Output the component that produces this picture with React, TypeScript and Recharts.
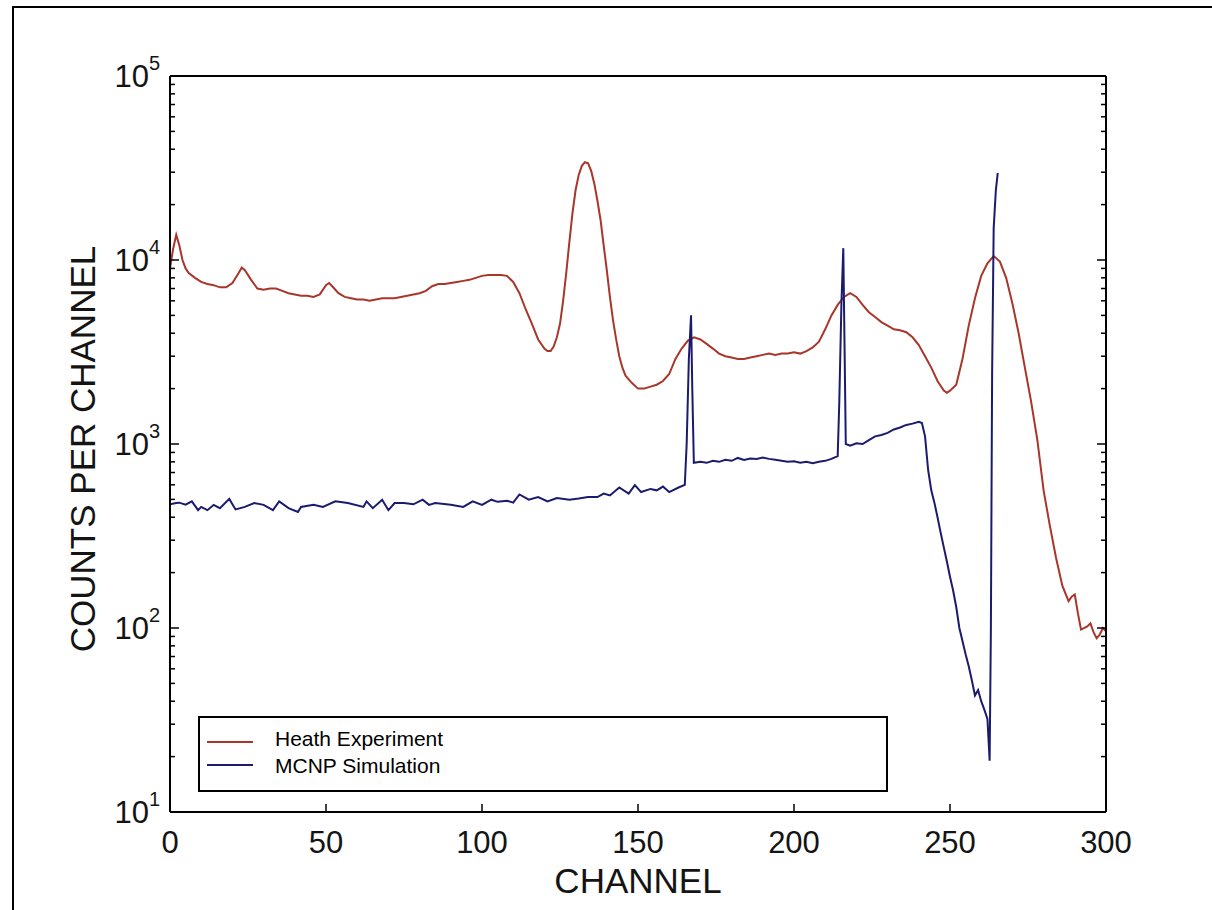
import React from 'react';
import { LineChart, Line, XAxis, YAxis, Legend, Label } from 'recharts';

const FONT = '"Liberation Sans", Arial, Helvetica, sans-serif';

// Heath Experiment (red)
const heathChannel = [
  0, 1, 2, 3, 4, 5, 6, 8, 10, 12, 14, 16, 18, 20, 22, 23, 24, 26, 28, 30,
  32, 34, 36, 38, 40, 42, 44, 46, 48, 50, 51, 52, 54, 56, 58, 60, 62, 64, 66, 68,
  70, 72, 74, 76, 78, 80, 82, 84, 86, 88, 90, 92, 94, 96, 98, 100, 102, 104, 106, 108,
  110, 112, 114, 116, 118, 120, 121, 122, 123, 124, 125, 126, 127, 128, 129, 130, 131, 132, 133, 134,
  135, 136, 137, 138, 139, 140, 141, 142, 143, 144, 145, 146, 148, 150, 152, 154, 156, 158, 160, 162,
  164, 166, 168, 170, 172, 174, 176, 178, 180, 182, 184, 186, 188, 190, 192, 194, 196, 198, 200, 202,
  204, 206, 208, 210, 212, 214, 216, 218, 220, 222, 224, 226, 228, 230, 232, 234, 236, 238, 240, 242,
  244, 246, 248, 249, 250, 252, 254, 256, 258, 260, 262, 264, 266, 268, 270, 272, 274, 276, 278, 280,
  282, 284, 286, 288, 289, 290, 291, 292, 294, 295, 296, 297, 298, 299, 300,
];
const heathCounts = [
  9000, 11500, 13700, 12000, 10000, 9000, 8500, 8000, 7600, 7400, 7300, 7100, 7100, 7500, 8500, 9100, 8800, 7800, 7000, 6900,
  7000, 7000, 6800, 6600, 6500, 6400, 6400, 6300, 6500, 7300, 7500, 7200, 6600, 6300, 6200, 6100, 6100, 6000, 6100, 6200,
  6200, 6200, 6300, 6400, 6500, 6600, 6800, 7200, 7400, 7400, 7500, 7600, 7700, 7800, 8000, 8200, 8300, 8300, 8300, 8200,
  7600, 6600, 5400, 4500, 3700, 3300, 3200, 3200, 3400, 3800, 4500, 6000, 8500, 12500, 18000, 24000, 29000, 32500, 34000, 33500,
  30500, 26000, 21000, 16500, 12000, 8800, 6300, 4700, 3700, 3000, 2600, 2350, 2150, 2000, 2000, 2050, 2100, 2200, 2400, 2900,
  3300, 3650, 3800, 3700, 3500, 3300, 3100, 3000, 2950, 2900, 2900, 2950, 3000, 3050, 3100, 3050, 3100, 3100, 3150, 3100,
  3200, 3350, 3600, 4200, 5000, 5700, 6300, 6600, 6300, 5700, 5200, 4900, 4600, 4400, 4200, 4150, 4050, 3800, 3450, 3000,
  2600, 2200, 1950, 1900, 1950, 2100, 2900, 4400, 6200, 8200, 9600, 10500, 9800, 8000, 5800, 4000, 2600, 1700, 1050, 560,
  360, 240, 170, 140, 148, 152, 120, 98, 102, 106, 95, 88, 92, 100, 96,
];

// MCNP Simulation (blue)
const mcnpChannel = [
  0, 2, 3, 5, 7, 9, 10, 12, 14, 16, 19, 21, 24, 27, 30, 33, 35, 38, 41, 42,
  46, 49, 53, 57, 62, 63, 65, 68, 70, 72, 75, 78, 81, 83, 85, 90, 94, 97, 100, 103,
  105, 108, 110, 112, 115, 118, 121, 124, 128, 131, 134, 137, 139, 141, 144, 147, 149, 151, 154, 156,
  158, 160, 163, 165, 165.6, 166.3, 167, 167.4, 167.9, 170, 172, 174, 176, 178, 180, 182, 184, 186, 188, 190,
  192, 194, 196, 198, 200, 202, 204, 206, 208, 210, 212, 214, 214.5, 215.2, 215.8, 216.2, 216.6, 218, 220, 222,
  224, 226, 228, 230, 232, 234, 236, 238, 240, 241, 242, 243, 244, 245, 246, 247, 248, 249, 250, 251,
  252, 253, 254, 255, 256, 257, 258, 259, 260, 261, 262, 262.7, 263.1, 263.5, 264, 264.7, 265.3,
];
const mcnpCounts = [
  470, 478, 480, 468, 488, 437, 455, 437, 467, 448, 503, 441, 455, 478, 467, 437, 488, 448, 427, 455,
  467, 455, 488, 478, 455, 488, 448, 498, 437, 478, 478, 470, 498, 467, 478, 467, 455, 488, 467, 498,
  485, 492, 480, 532, 498, 515, 488, 509, 498, 505, 515, 515, 538, 525, 580, 538, 598, 548, 570, 560,
  587, 548, 580, 600, 1000, 2900, 5000, 2000, 790, 800, 790, 810, 800, 820, 810, 840, 820, 835, 830, 845,
  830, 820, 810, 800, 805, 790, 800, 785, 800, 810, 830, 860, 1650, 5800, 11600, 3400, 1000, 980, 1010, 1000,
  1050, 1100, 1120, 1150, 1200, 1230, 1270, 1290, 1320, 1300, 1100, 720, 560, 480, 400, 330, 275, 230, 190, 160,
  130, 100, 85, 72, 62, 52, 43, 46, 40, 36, 32, 19, 97, 2400, 14900, 24000, 29700,
];

const xTicks = [0, 50, 100, 150, 200, 250, 300];
const yMajorTicks = [10, 100, 1000, 10000, 100000];
const yAllTicks = [
  10, 20, 30, 40, 50, 60, 70, 80, 90,
  100, 200, 300, 400, 500, 600, 700, 800, 900,
  1000, 2000, 3000, 4000, 5000, 6000, 7000, 8000, 9000,
  10000, 20000, 30000, 40000, 50000, 60000, 70000, 80000, 90000,
  100000,
];

const heathData = heathChannel.map((ch, i) => ({ ch, counts: heathCounts[i] }));
const mcnpData = mcnpChannel.map((ch, i) => ({ ch, counts: mcnpCounts[i] }));

const RED = '#a8362a';
const BLUE = '#1b1b6e';
const INK = '#141414';

const LeftTick = (props: any) => {
  const { x, y, payload } = props;
  const v = payload.value;
  const major = yMajorTicks.includes(v);
  const exp = Math.round(Math.log10(v));
  return (
    <g>
      <line x1={x} x2={x + (major ? 9 : 5)} y1={y} y2={y} stroke="#000" strokeWidth={1.5} />
      {major && (
        <text x={x - 10} y={y + 11} textAnchor="end" fontSize={31} fontFamily={FONT} fill={INK}>
          10
          <tspan dy={-17} fontSize={20}>{exp}</tspan>
        </text>
      )}
    </g>
  );
};

const RightTick = (props: any) => {
  const { x, y, payload } = props;
  const major = yMajorTicks.includes(payload.value);
  return (
    <g>
      <line x1={x} x2={x - (major ? 9 : 5)} y1={y} y2={y} stroke="#000" strokeWidth={1.5} />
    </g>
  );
};

const BottomTick = (props: any) => {
  const { x, y, payload } = props;
  return (
    <g>
      <line x1={x} x2={x} y1={y} y2={y - 8} stroke="#000" strokeWidth={1.5} />
      <text x={x} y={y + 41} textAnchor="middle" fontSize={31} fontFamily={FONT} fill={INK}>
        {payload.value}
      </text>
    </g>
  );
};

const TopTick = (props: any) => {
  const { x, y } = props;
  return (
    <g>
      <line x1={x} x2={x} y1={y} y2={y + 9} stroke="#000" strokeWidth={1.5} />
    </g>
  );
};

const XTitle = (props: any) => {
  const vb = props.viewBox || { x: 170, y: 812, width: 936, height: 30 };
  return (
    <text x={vb.x + vb.width / 2} y={893} textAnchor="middle" fontSize={35} fontFamily={FONT} fill={INK}>
      CHANNEL
    </text>
  );
};

const YTitle = (props: any) => {
  const vb = props.viewBox || { x: 110, y: 76, width: 60, height: 736 };
  const cy = vb.y + vb.height / 2 + 5;
  return (
    <text
      x={0}
      y={0}
      transform={`translate(95, ${cy}) rotate(-90)`}
      textAnchor="middle"
      fontSize={35}
      fontFamily={FONT}
      fill={INK}
    >
      COUNTS PER CHANNEL
    </text>
  );
};

const textTops = [9, 36];
const lineTops = [23, 46];

const LegendBox = (props: any) => {
  const items = props.payload || [];
  return (
    <div
      style={{
        position: 'relative',
        width: 690,
        height: 76,
        border: '2px solid #000',
        boxSizing: 'border-box',
        background: '#fff',
        fontFamily: FONT,
      }}
    >
      {items.map((it: any, i: number) => (
        <React.Fragment key={i}>
          <div
            style={{
              position: 'absolute',
              left: 7,
              top: lineTops[i] ?? 23 + i * 23,
              width: 46,
              height: 2,
              background: it.color,
            }}
          />
          <div
            style={{
              position: 'absolute',
              left: 75,
              top: textTops[i] ?? 9 + i * 27,
              fontSize: 21,
              lineHeight: '24px',
              color: '#000',
              whiteSpace: 'nowrap',
            }}
          >
            {it.value}
          </div>
        </React.Fragment>
      ))}
    </div>
  );
};

export default function App() {
  return (
    <div
      style={{
        position: 'absolute',
        left: 0,
        top: 0,
        width: 1212,
        height: 910,
        overflow: 'hidden',
        background: '#fff',
      }}
    >
      <div
        style={{
          position: 'absolute',
          left: 12,
          top: 6,
          width: 1220,
          height: 920,
          borderTop: '2px solid #000',
          borderLeft: '2px solid #000',
        }}
      />
      <div style={{ position: 'absolute', left: 0, top: 0 }}>
        <LineChart width={1212} height={910} margin={{ top: 46, right: 46, bottom: 68, left: 110 }}>
          <XAxis
            xAxisId="bottom"
            dataKey="ch"
            type="number"
            domain={[0, 300]}
            ticks={xTicks}
            interval={0}
            orientation="bottom"
            height={30}
            tickSize={0}
            tickMargin={0}
            tickLine={false}
            tick={<BottomTick />}
            axisLine={{ stroke: '#000', strokeWidth: 2 }}
          >
            <Label content={<XTitle />} />
          </XAxis>
          <XAxis
            xAxisId="top"
            dataKey="ch"
            type="number"
            domain={[0, 300]}
            ticks={xTicks}
            interval={0}
            orientation="top"
            height={30}
            tickSize={0}
            tickMargin={0}
            tickLine={false}
            tick={<TopTick />}
            axisLine={{ stroke: '#000', strokeWidth: 2 }}
          />
          <YAxis
            yAxisId="left"
            orientation="left"
            scale="log"
            domain={[10, 100000]}
            ticks={yAllTicks}
            interval={0}
            allowDataOverflow
            width={60}
            tickSize={0}
            tickMargin={0}
            tickLine={false}
            tick={<LeftTick />}
            axisLine={{ stroke: '#000', strokeWidth: 2 }}
          >
            <Label content={<YTitle />} />
          </YAxis>
          <YAxis
            yAxisId="right"
            orientation="right"
            scale="log"
            domain={[10, 100000]}
            ticks={yAllTicks}
            interval={0}
            allowDataOverflow
            width={60}
            tickSize={0}
            tickMargin={0}
            tickLine={false}
            tick={<RightTick />}
            axisLine={{ stroke: '#000', strokeWidth: 2 }}
          />
          <Legend
            layout="horizontal"
            verticalAlign="middle"
            align="center"
            content={<LegendBox />}
            wrapperStyle={{ position: 'absolute', left: 198, top: 716, width: 690, height: 76 }}
          />
          <Line
            name="Heath Experiment"
            data={heathData}
            dataKey="counts"
            xAxisId="bottom"
            yAxisId="left"
            type="linear"
            stroke={RED}
            strokeWidth={2}
            dot={false}
            activeDot={false}
            isAnimationActive={false}
          />
          <Line
            name="MCNP Simulation"
            data={mcnpData}
            dataKey="counts"
            xAxisId="bottom"
            yAxisId="left"
            type="linear"
            stroke={BLUE}
            strokeWidth={2}
            dot={false}
            activeDot={false}
            isAnimationActive={false}
          />
        </LineChart>
      </div>
    </div>
  );
}
